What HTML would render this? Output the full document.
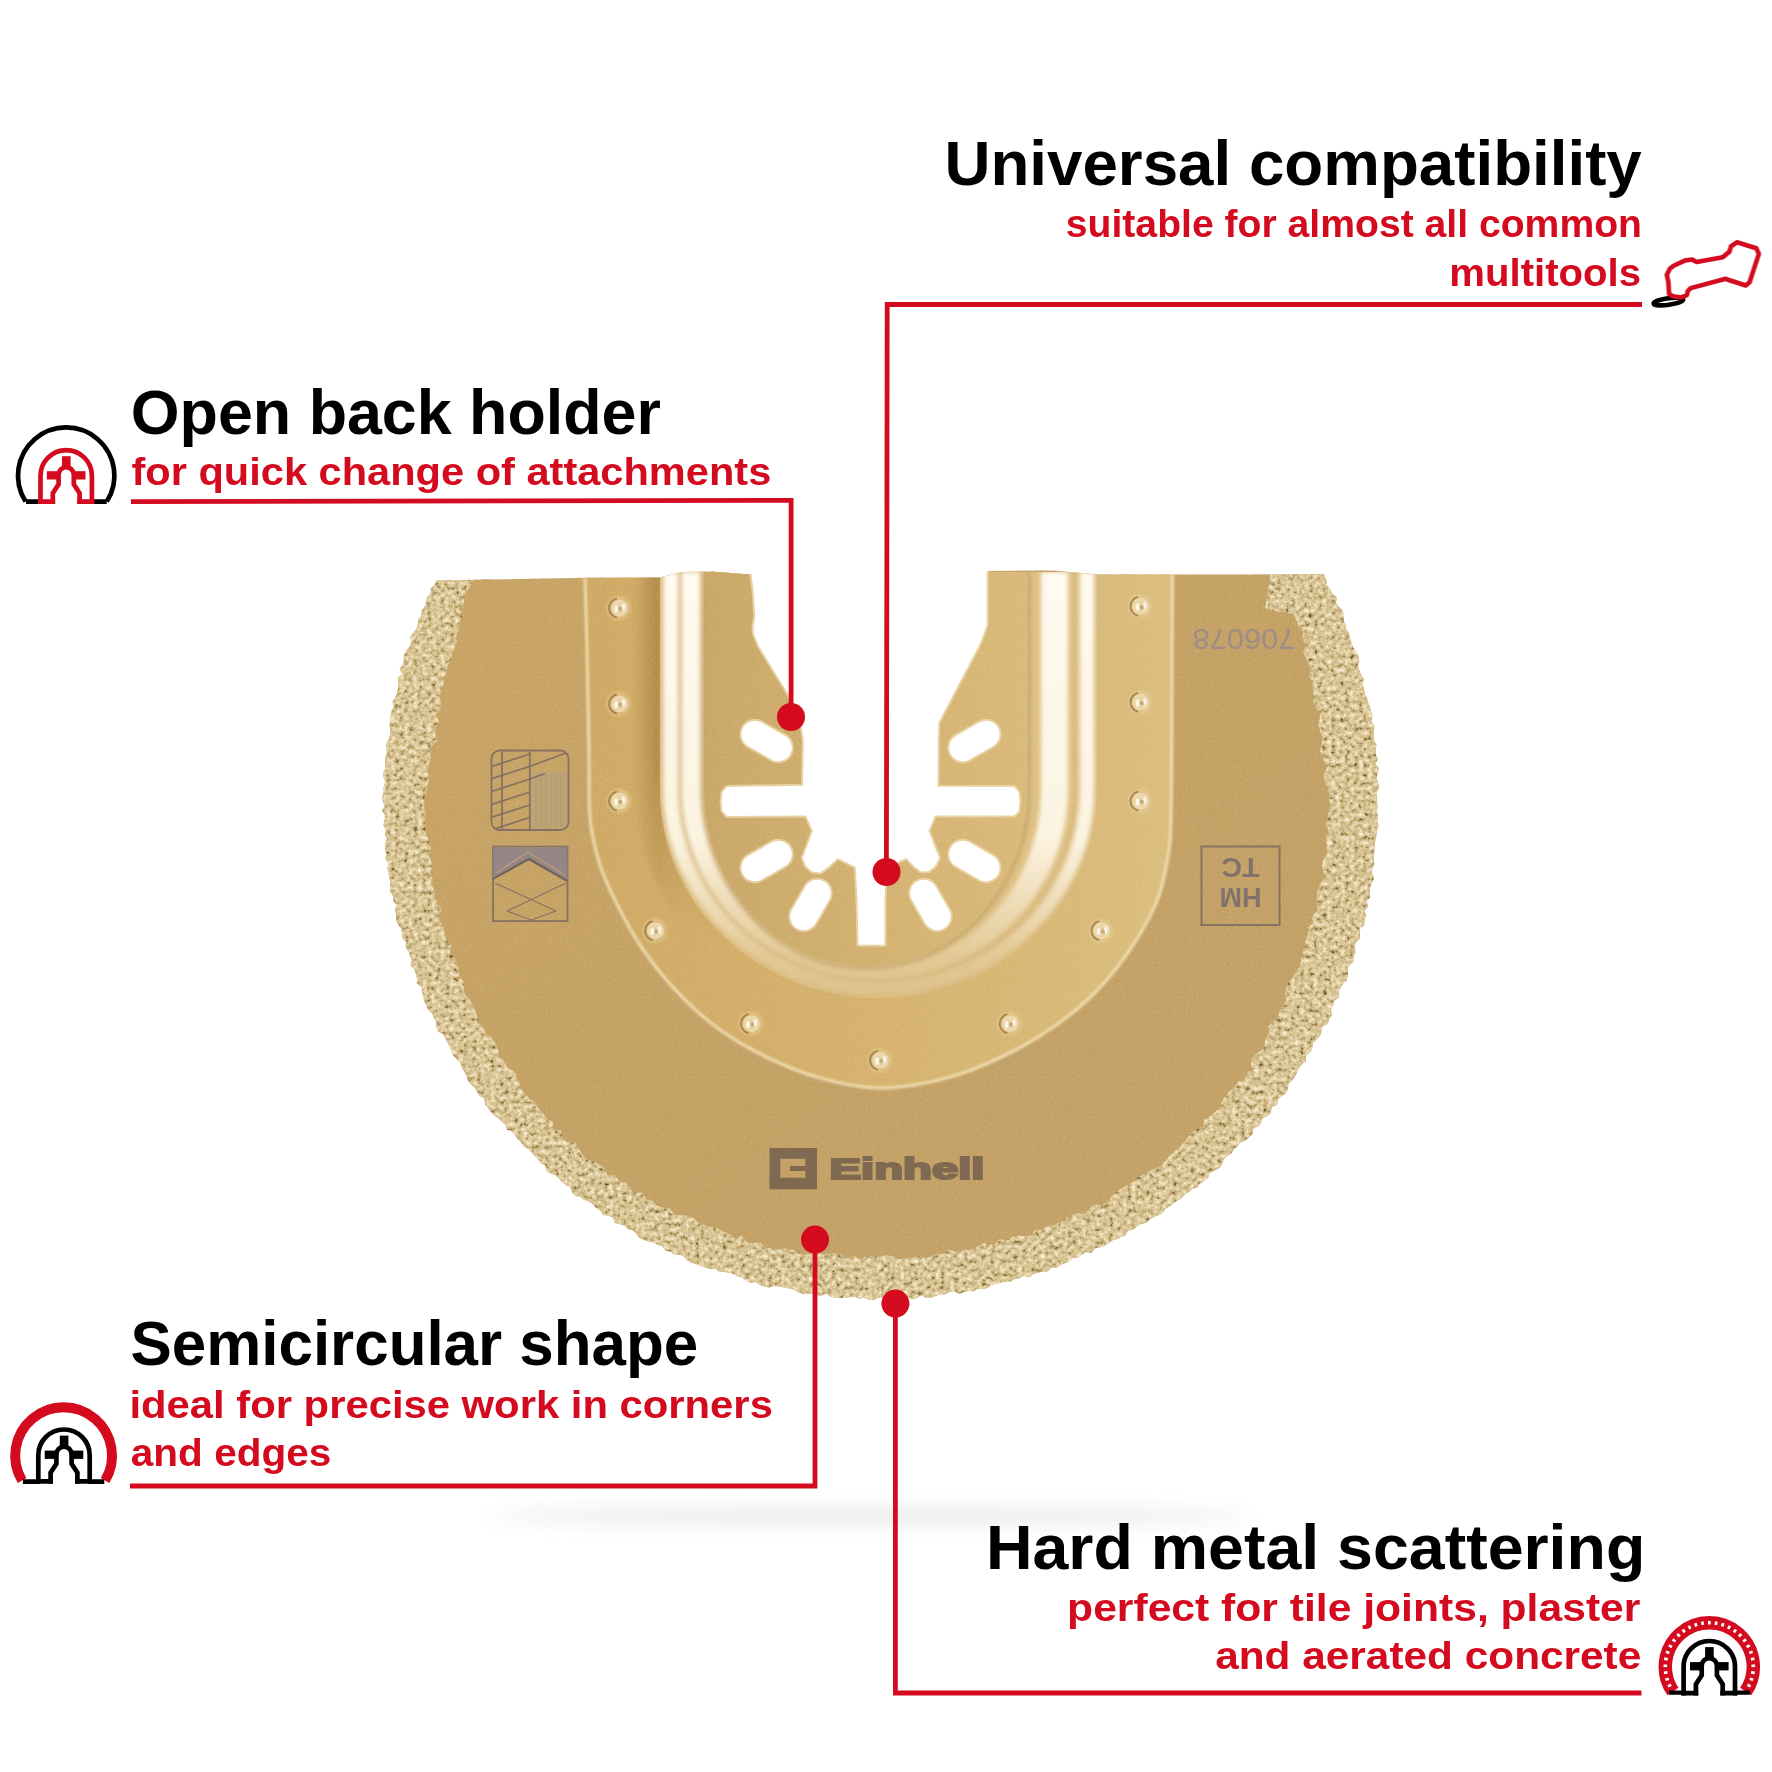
<!DOCTYPE html>
<html><head><meta charset="utf-8">
<style>
html,body{margin:0;padding:0;background:#fff;}
body{width:1772px;height:1772px;overflow:hidden;position:relative;}
svg{position:absolute;left:0;top:0;}
.h{font-family:"Liberation Sans",sans-serif;font-weight:bold;font-size:63px;fill:#000;}
.s{font-family:"Liberation Sans",sans-serif;font-weight:bold;font-size:39px;fill:#d40a1e;}
</style></head>
<body>
<svg width="1772" height="1772" viewBox="0 0 1772 1772">
<rect width="1772" height="1772" fill="#fff"/>
<!-- BLADE -->

<defs>
  <clipPath id="bladeClip"><path d="M436.1,580.4 434.6,585.0 430.7,588.5 430.8,593.8 427.2,597.3 425.9,602.0 425.1,606.8 421.6,610.5 421.5,615.6 418.3,619.5 417.9,624.5 416.2,628.9 413.3,632.9 410.2,636.9 411.3,642.3 409.4,646.7 406.4,650.7 403.8,654.9 403.8,659.9 403.2,664.7 399.6,668.7 402.0,674.3 397.7,678.1 398.7,683.3 398.2,688.0 397.2,692.7 395.4,697.2 392.5,701.4 394.0,706.6 391.6,711.0 390.5,715.7 390.8,720.5 389.3,725.2 390.5,730.2 389.9,734.9 388.7,739.5 386.2,744.0 386.7,748.9 386.7,753.7 385.2,758.3 385.3,763.1 385.6,767.9 383.3,772.6 383.5,777.4 385.1,782.2 383.6,786.9 383.7,791.7 382.2,796.5 382.8,801.3 384.6,806.0 381.9,810.8 385.4,815.5 384.4,820.3 383.3,825.2 385.9,829.8 384.9,834.7 387.0,839.3 384.9,844.2 385.0,849.0 386.2,853.7 385.5,858.6 388.3,863.1 387.4,868.0 388.5,872.7 389.3,877.4 390.5,882.0 389.8,887.0 390.2,891.8 393.0,896.1 393.2,901.0 396.5,905.1 395.0,910.3 396.3,915.0 396.1,919.9 397.9,924.4 401.2,928.5 402.1,933.2 402.3,938.1 406.1,942.0 405.8,947.0 408.3,951.2 410.0,955.7 411.7,960.1 410.6,965.6 414.6,969.2 415.8,973.8 416.9,978.5 416.9,983.6 421.6,986.9 422.0,991.9 423.5,996.4 424.2,1001.3 426.3,1005.6 428.2,1010.0 432.3,1013.4 433.9,1017.9 436.2,1022.1 436.5,1027.3 438.4,1031.7 443.5,1034.4 445.6,1038.7 447.7,1042.9 450.1,1047.1 451.6,1051.7 453.7,1056.0 457.3,1059.5 460.6,1063.0 461.8,1067.9 464.5,1071.8 466.5,1076.2 467.9,1081.0 471.4,1084.4 474.7,1087.9 477.2,1092.0 479.8,1096.0 484.6,1098.4 484.8,1104.2 488.1,1107.7 490.8,1111.7 494.0,1115.3 498.3,1117.9 501.4,1121.6 505.4,1124.5 506.9,1129.4 511.8,1131.5 514.9,1135.0 517.7,1138.9 521.1,1142.3 523.9,1146.2 528.1,1148.8 531.6,1152.0 534.5,1155.8 538.1,1159.0 540.8,1163.0 545.2,1165.3 546.5,1171.0 550.7,1173.4 555.5,1175.1 558.9,1178.6 562.3,1181.9 565.9,1185.0 570.2,1187.3 572.1,1192.5 575.5,1195.9 580.6,1197.2 584.4,1200.1 589.2,1201.6 593.0,1204.5 596.3,1208.0 600.4,1210.5 603.1,1215.0 608.6,1215.4 612.9,1217.6 614.9,1223.2 619.8,1224.3 624.7,1225.5 628.0,1229.3 633.1,1230.0 636.3,1234.1 639.6,1238.0 644.0,1239.9 648.5,1241.5 653.6,1242.2 657.6,1244.7 662.3,1246.1 665.5,1250.4 670.2,1251.6 674.2,1254.5 679.2,1254.8 683.8,1256.3 687.2,1260.4 691.4,1262.8 696.0,1264.1 700.6,1265.7 705.0,1267.5 709.6,1268.9 714.8,1268.5 718.9,1271.2 723.6,1272.1 728.6,1272.4 733.1,1273.8 737.4,1276.2 741.9,1277.5 746.1,1280.4 750.4,1282.7 755.5,1282.0 759.7,1285.1 764.3,1286.4 769.0,1287.4 774.2,1286.1 778.9,1286.6 783.6,1287.6 788.3,1288.3 793.0,1289.2 797.4,1291.7 801.9,1293.6 806.7,1294.1 811.6,1293.4 816.3,1294.7 820.9,1295.9 826.0,1293.6 830.5,1296.4 835.2,1297.8 840.0,1297.7 844.8,1298.0 849.6,1297.2 854.4,1296.3 859.1,1299.0 863.9,1297.3 868.6,1299.4 873.4,1300.1 878.2,1297.9 883.0,1297.9 887.8,1300.0 892.6,1299.1 897.3,1296.7 902.0,1296.4 906.8,1296.2 911.7,1299.0 916.5,1298.3 921.0,1295.3 926.0,1297.6 930.8,1297.7 935.5,1295.9 940.1,1294.2 944.9,1294.4 949.4,1292.1 954.1,1290.9 959.4,1294.0 963.9,1292.0 968.5,1290.7 973.5,1291.4 977.8,1288.5 982.8,1289.3 987.5,1288.1 991.6,1284.7 996.3,1283.7 1000.9,1282.8 1005.5,1281.4 1010.5,1281.5 1014.7,1279.0 1019.5,1278.3 1023.7,1275.8 1029.2,1277.4 1033.1,1273.9 1037.8,1272.8 1042.4,1271.7 1047.4,1271.4 1051.2,1267.9 1056.4,1268.1 1060.3,1264.9 1064.8,1263.2 1069.2,1261.4 1072.8,1257.7 1077.9,1257.4 1081.8,1254.6 1085.9,1252.0 1091.5,1252.9 1094.8,1248.6 1099.6,1247.6 1104.3,1246.3 1108.3,1243.6 1112.1,1240.6 1116.6,1239.0 1120.9,1236.9 1125.5,1235.3 1128.3,1230.6 1133.4,1229.8 1136.8,1226.3 1141.0,1223.9 1146.1,1223.1 1149.5,1219.6 1153.7,1217.2 1158.1,1215.2 1162.4,1213.0 1165.3,1208.8 1169.6,1206.6 1173.2,1203.4 1177.0,1200.6 1181.3,1198.4 1184.5,1194.7 1188.5,1192.0 1192.1,1188.9 1197.0,1187.3 1200.0,1183.5 1204.2,1181.0 1208.0,1178.0 1209.8,1172.8 1214.1,1170.6 1218.7,1168.5 1221.9,1164.9 1223.5,1159.6 1226.8,1156.3 1231.1,1153.8 1233.5,1149.4 1237.3,1146.5 1240.1,1142.6 1245.1,1140.7 1248.7,1137.5 1252.2,1134.3 1253.2,1128.8 1258.0,1126.6 1260.9,1122.9 1262.4,1117.9 1267.7,1116.1 1271.0,1112.6 1271.6,1107.0 1276.9,1105.0 1278.0,1099.8 1281.1,1096.2 1285.6,1093.5 1287.9,1089.3 1288.4,1083.8 1292.0,1080.5 1294.9,1076.7 1297.0,1072.4 1299.1,1068.1 1302.0,1064.3 1305.9,1061.1 1306.0,1055.5 1310.2,1052.5 1312.2,1048.2 1313.1,1043.2 1316.5,1039.6 1319.8,1036.0 1321.7,1031.6 1322.3,1026.5 1327.7,1023.9 1329.1,1019.3 1331.9,1015.3 1330.7,1009.5 1333.3,1005.4 1334.4,1000.7 1339.0,997.5 1339.0,992.3 1340.3,987.7 1343.2,983.7 1346.7,980.0 1348.1,975.4 1347.6,970.1 1348.8,965.5 1353.3,962.0 1353.5,957.0 1355.5,952.6 1354.6,947.3 1355.8,942.7 1359.6,938.9 1359.9,934.0 1359.8,929.0 1364.3,925.3 1364.3,920.3 1366.1,915.8 1364.4,910.6 1368.4,906.6 1366.3,901.2 1370.4,897.2 1369.7,892.2 1370.1,887.4 1371.7,882.9 1374.0,878.4 1372.1,873.3 1372.2,868.5 1374.4,863.9 1373.8,859.1 1373.9,854.3 1374.6,849.6 1374.6,844.8 1375.6,840.1 1376.4,835.4 1376.6,830.6 1378.7,825.9 1377.1,821.1 1378.1,816.4 1376.9,811.6 1377.7,806.8 1376.4,802.0 1377.3,797.3 1376.3,792.5 1379.1,787.7 1378.2,782.9 1376.5,778.2 1377.4,773.4 1379.0,768.5 1375.3,764.0 1377.8,759.0 1375.8,754.4 1375.6,749.6 1376.5,744.7 1374.1,740.2 1374.0,735.4 1374.0,730.6 1374.5,725.7 1371.2,721.3 1372.4,716.3 1371.1,711.7 1369.9,707.0 1368.1,702.5 1366.9,697.9 1364.7,693.5 1364.0,688.8 1362.6,684.2 1364.1,678.9 1361.0,674.8 1359.4,670.3 1357.8,665.8 1359.4,660.4 1358.2,655.7 1356.0,651.4 1353.0,647.3 1351.4,642.9 1350.1,638.3 1349.1,633.6 1346.3,629.5 1345.7,624.6 1343.4,620.5 1344.2,615.0 1342.4,610.5 1339.0,606.8 1336.0,602.9 1336.7,597.3 1332.4,594.1 1330.5,589.7 1327.2,586.0 1326.5,581.0 1324.7,576.6 1323.9,574.3 1172.0,574.6 1097.0,574.4 1053.0,570.5 987.0,571.0 870.0,572.0 750.0,574.5 712.0,571.5 682.0,572.0 660.0,577.6 585.0,577.8Z"/></clipPath>
  <filter id="grain" x="0" y="0" width="100%" height="100%" color-interpolation-filters="sRGB">
    <feTurbulence type="fractalNoise" baseFrequency="0.8" numOctaves="2" seed="3" result="n"/>
    <feColorMatrix in="n" type="matrix" values="0 0 0 0 1  0 0 0 0 0.93  0 0 0 0 0.78  2.2 0 0 0 -1.2" result="a"/>
    <feComposite in="a" in2="SourceGraphic" operator="in"/>
  </filter>
  <filter id="grit" x="0" y="0" width="100%" height="100%" color-interpolation-filters="sRGB">
    <feTurbulence type="fractalNoise" baseFrequency="0.22" numOctaves="3" seed="11" result="n"/>
    <feColorMatrix in="n" type="matrix" values="1 0 0 0 0  1 0 0 0 0  1 0 0 0 0  0 0 0 0 1" result="g"/>
    <feComponentTransfer in="g" result="c">
      <feFuncR type="table" tableValues="0.30 0.34 0.52 0.73 0.80 0.85 0.89 0.93 0.97 1 1"/>
      <feFuncG type="table" tableValues="0.23 0.27 0.43 0.64 0.72 0.77 0.82 0.87 0.92 0.96 0.96"/>
      <feFuncB type="table" tableValues="0.10 0.12 0.25 0.43 0.52 0.58 0.65 0.72 0.81 0.88 0.88"/>
    </feComponentTransfer>
    <feComposite in="c" in2="SourceGraphic" operator="in"/>
  </filter>
  <filter id="hlblur1" x="-5%" y="-5%" width="110%" height="110%"><feGaussianBlur stdDeviation="0.9"/></filter>
  <filter id="hlblur" x="-5%" y="-5%" width="110%" height="110%"><feGaussianBlur stdDeviation="2.2"/></filter>
  <filter id="soft" x="-20%" y="-20%" width="140%" height="140%"><feGaussianBlur stdDeviation="1.2"/></filter>
  <filter id="shadowBlur" x="-30%" y="-300%" width="160%" height="700%"><feGaussianBlur stdDeviation="9"/></filter>
  <linearGradient id="bodyG" x1="0" y1="0" x2="1" y2="1">
    <stop offset="0" stop-color="#c8a465"/>
    <stop offset="0.55" stop-color="#c3a064"/>
    <stop offset="1" stop-color="#c3a26a"/>
  </linearGradient>
  <linearGradient id="plateG" x1="0" y1="0" x2="1" y2="0">
    <stop offset="0" stop-color="#cfa964"/>
    <stop offset="0.5" stop-color="#d5b26e"/>
    <stop offset="1" stop-color="#dbbd7e"/>
  </linearGradient>
  <linearGradient id="innerG" x1="0" y1="0" x2="1" y2="0">
    <stop offset="0" stop-color="#c9a769"/>
    <stop offset="0.5" stop-color="#d2b070"/>
    <stop offset="1" stop-color="#dab97a"/>
  </linearGradient>
  <linearGradient id="hlG" gradientUnits="userSpaceOnUse" x1="0" y1="572" x2="0" y2="1000">
    <stop offset="0" stop-color="#fffbf2"/><stop offset="0.62" stop-color="#fcf4e2"/><stop offset="0.9" stop-color="#e2c894"/><stop offset="1" stop-color="#dcc08a"/>
  </linearGradient>
  <linearGradient id="shL" gradientUnits="userSpaceOnUse" x1="636" y1="0" x2="1000" y2="0">
    <stop offset="0" stop-color="#8a6428" stop-opacity="0.05"/><stop offset="0.06" stop-color="#8a6428" stop-opacity="0.45"/><stop offset="0.15" stop-color="#8a6428" stop-opacity="0.3"/><stop offset="0.3" stop-color="#8a6428" stop-opacity="0"/>
  </linearGradient>
  <linearGradient id="shFade" gradientUnits="userSpaceOnUse" x1="0" y1="760" x2="0" y2="930"><stop offset="0" stop-color="#fff"/><stop offset="1" stop-color="#000"/></linearGradient>
  <radialGradient id="rivG" cx="0.5" cy="0.5" r="0.6"><stop offset="0" stop-color="#e4d0a0"/><stop offset="1" stop-color="#efdcb2"/></radialGradient>
</defs>
<ellipse cx="870" cy="1516" rx="380" ry="9" fill="#e6e6e8" filter="url(#shadowBlur)" opacity="0.8"/>
<g id="bladeGroup">
  <path d="M436.1,580.4 434.6,585.0 430.7,588.5 430.8,593.8 427.2,597.3 425.9,602.0 425.1,606.8 421.6,610.5 421.5,615.6 418.3,619.5 417.9,624.5 416.2,628.9 413.3,632.9 410.2,636.9 411.3,642.3 409.4,646.7 406.4,650.7 403.8,654.9 403.8,659.9 403.2,664.7 399.6,668.7 402.0,674.3 397.7,678.1 398.7,683.3 398.2,688.0 397.2,692.7 395.4,697.2 392.5,701.4 394.0,706.6 391.6,711.0 390.5,715.7 390.8,720.5 389.3,725.2 390.5,730.2 389.9,734.9 388.7,739.5 386.2,744.0 386.7,748.9 386.7,753.7 385.2,758.3 385.3,763.1 385.6,767.9 383.3,772.6 383.5,777.4 385.1,782.2 383.6,786.9 383.7,791.7 382.2,796.5 382.8,801.3 384.6,806.0 381.9,810.8 385.4,815.5 384.4,820.3 383.3,825.2 385.9,829.8 384.9,834.7 387.0,839.3 384.9,844.2 385.0,849.0 386.2,853.7 385.5,858.6 388.3,863.1 387.4,868.0 388.5,872.7 389.3,877.4 390.5,882.0 389.8,887.0 390.2,891.8 393.0,896.1 393.2,901.0 396.5,905.1 395.0,910.3 396.3,915.0 396.1,919.9 397.9,924.4 401.2,928.5 402.1,933.2 402.3,938.1 406.1,942.0 405.8,947.0 408.3,951.2 410.0,955.7 411.7,960.1 410.6,965.6 414.6,969.2 415.8,973.8 416.9,978.5 416.9,983.6 421.6,986.9 422.0,991.9 423.5,996.4 424.2,1001.3 426.3,1005.6 428.2,1010.0 432.3,1013.4 433.9,1017.9 436.2,1022.1 436.5,1027.3 438.4,1031.7 443.5,1034.4 445.6,1038.7 447.7,1042.9 450.1,1047.1 451.6,1051.7 453.7,1056.0 457.3,1059.5 460.6,1063.0 461.8,1067.9 464.5,1071.8 466.5,1076.2 467.9,1081.0 471.4,1084.4 474.7,1087.9 477.2,1092.0 479.8,1096.0 484.6,1098.4 484.8,1104.2 488.1,1107.7 490.8,1111.7 494.0,1115.3 498.3,1117.9 501.4,1121.6 505.4,1124.5 506.9,1129.4 511.8,1131.5 514.9,1135.0 517.7,1138.9 521.1,1142.3 523.9,1146.2 528.1,1148.8 531.6,1152.0 534.5,1155.8 538.1,1159.0 540.8,1163.0 545.2,1165.3 546.5,1171.0 550.7,1173.4 555.5,1175.1 558.9,1178.6 562.3,1181.9 565.9,1185.0 570.2,1187.3 572.1,1192.5 575.5,1195.9 580.6,1197.2 584.4,1200.1 589.2,1201.6 593.0,1204.5 596.3,1208.0 600.4,1210.5 603.1,1215.0 608.6,1215.4 612.9,1217.6 614.9,1223.2 619.8,1224.3 624.7,1225.5 628.0,1229.3 633.1,1230.0 636.3,1234.1 639.6,1238.0 644.0,1239.9 648.5,1241.5 653.6,1242.2 657.6,1244.7 662.3,1246.1 665.5,1250.4 670.2,1251.6 674.2,1254.5 679.2,1254.8 683.8,1256.3 687.2,1260.4 691.4,1262.8 696.0,1264.1 700.6,1265.7 705.0,1267.5 709.6,1268.9 714.8,1268.5 718.9,1271.2 723.6,1272.1 728.6,1272.4 733.1,1273.8 737.4,1276.2 741.9,1277.5 746.1,1280.4 750.4,1282.7 755.5,1282.0 759.7,1285.1 764.3,1286.4 769.0,1287.4 774.2,1286.1 778.9,1286.6 783.6,1287.6 788.3,1288.3 793.0,1289.2 797.4,1291.7 801.9,1293.6 806.7,1294.1 811.6,1293.4 816.3,1294.7 820.9,1295.9 826.0,1293.6 830.5,1296.4 835.2,1297.8 840.0,1297.7 844.8,1298.0 849.6,1297.2 854.4,1296.3 859.1,1299.0 863.9,1297.3 868.6,1299.4 873.4,1300.1 878.2,1297.9 883.0,1297.9 887.8,1300.0 892.6,1299.1 897.3,1296.7 902.0,1296.4 906.8,1296.2 911.7,1299.0 916.5,1298.3 921.0,1295.3 926.0,1297.6 930.8,1297.7 935.5,1295.9 940.1,1294.2 944.9,1294.4 949.4,1292.1 954.1,1290.9 959.4,1294.0 963.9,1292.0 968.5,1290.7 973.5,1291.4 977.8,1288.5 982.8,1289.3 987.5,1288.1 991.6,1284.7 996.3,1283.7 1000.9,1282.8 1005.5,1281.4 1010.5,1281.5 1014.7,1279.0 1019.5,1278.3 1023.7,1275.8 1029.2,1277.4 1033.1,1273.9 1037.8,1272.8 1042.4,1271.7 1047.4,1271.4 1051.2,1267.9 1056.4,1268.1 1060.3,1264.9 1064.8,1263.2 1069.2,1261.4 1072.8,1257.7 1077.9,1257.4 1081.8,1254.6 1085.9,1252.0 1091.5,1252.9 1094.8,1248.6 1099.6,1247.6 1104.3,1246.3 1108.3,1243.6 1112.1,1240.6 1116.6,1239.0 1120.9,1236.9 1125.5,1235.3 1128.3,1230.6 1133.4,1229.8 1136.8,1226.3 1141.0,1223.9 1146.1,1223.1 1149.5,1219.6 1153.7,1217.2 1158.1,1215.2 1162.4,1213.0 1165.3,1208.8 1169.6,1206.6 1173.2,1203.4 1177.0,1200.6 1181.3,1198.4 1184.5,1194.7 1188.5,1192.0 1192.1,1188.9 1197.0,1187.3 1200.0,1183.5 1204.2,1181.0 1208.0,1178.0 1209.8,1172.8 1214.1,1170.6 1218.7,1168.5 1221.9,1164.9 1223.5,1159.6 1226.8,1156.3 1231.1,1153.8 1233.5,1149.4 1237.3,1146.5 1240.1,1142.6 1245.1,1140.7 1248.7,1137.5 1252.2,1134.3 1253.2,1128.8 1258.0,1126.6 1260.9,1122.9 1262.4,1117.9 1267.7,1116.1 1271.0,1112.6 1271.6,1107.0 1276.9,1105.0 1278.0,1099.8 1281.1,1096.2 1285.6,1093.5 1287.9,1089.3 1288.4,1083.8 1292.0,1080.5 1294.9,1076.7 1297.0,1072.4 1299.1,1068.1 1302.0,1064.3 1305.9,1061.1 1306.0,1055.5 1310.2,1052.5 1312.2,1048.2 1313.1,1043.2 1316.5,1039.6 1319.8,1036.0 1321.7,1031.6 1322.3,1026.5 1327.7,1023.9 1329.1,1019.3 1331.9,1015.3 1330.7,1009.5 1333.3,1005.4 1334.4,1000.7 1339.0,997.5 1339.0,992.3 1340.3,987.7 1343.2,983.7 1346.7,980.0 1348.1,975.4 1347.6,970.1 1348.8,965.5 1353.3,962.0 1353.5,957.0 1355.5,952.6 1354.6,947.3 1355.8,942.7 1359.6,938.9 1359.9,934.0 1359.8,929.0 1364.3,925.3 1364.3,920.3 1366.1,915.8 1364.4,910.6 1368.4,906.6 1366.3,901.2 1370.4,897.2 1369.7,892.2 1370.1,887.4 1371.7,882.9 1374.0,878.4 1372.1,873.3 1372.2,868.5 1374.4,863.9 1373.8,859.1 1373.9,854.3 1374.6,849.6 1374.6,844.8 1375.6,840.1 1376.4,835.4 1376.6,830.6 1378.7,825.9 1377.1,821.1 1378.1,816.4 1376.9,811.6 1377.7,806.8 1376.4,802.0 1377.3,797.3 1376.3,792.5 1379.1,787.7 1378.2,782.9 1376.5,778.2 1377.4,773.4 1379.0,768.5 1375.3,764.0 1377.8,759.0 1375.8,754.4 1375.6,749.6 1376.5,744.7 1374.1,740.2 1374.0,735.4 1374.0,730.6 1374.5,725.7 1371.2,721.3 1372.4,716.3 1371.1,711.7 1369.9,707.0 1368.1,702.5 1366.9,697.9 1364.7,693.5 1364.0,688.8 1362.6,684.2 1364.1,678.9 1361.0,674.8 1359.4,670.3 1357.8,665.8 1359.4,660.4 1358.2,655.7 1356.0,651.4 1353.0,647.3 1351.4,642.9 1350.1,638.3 1349.1,633.6 1346.3,629.5 1345.7,624.6 1343.4,620.5 1344.2,615.0 1342.4,610.5 1339.0,606.8 1336.0,602.9 1336.7,597.3 1332.4,594.1 1330.5,589.7 1327.2,586.0 1326.5,581.0 1324.7,576.6 1323.9,574.3 1172.0,574.6 1097.0,574.4 1053.0,570.5 987.0,571.0 870.0,572.0 750.0,574.5 712.0,571.5 682.0,572.0 660.0,577.6 585.0,577.8Z" fill="url(#bodyG)"/>
  <g clip-path="url(#bladeClip)">
    <path d="M585.0,577.8 C585.3,589.8 586.3,619.6 587.0,650.0 C587.7,680.4 588.5,731.7 589.0,760.0 C589.5,788.3 588.4,802.5 590.2,820.0 C592.0,837.5 595.5,850.9 600.0,865.0 C604.5,879.1 610.2,890.9 617.2,904.7 C624.2,918.5 632.4,933.9 642.0,948.0 C651.6,962.1 662.5,976.1 674.8,989.3 C687.1,1002.5 700.8,1015.7 716.0,1027.0 C731.2,1038.3 748.9,1048.5 766.2,1057.0 C783.5,1065.5 801.4,1072.8 820.0,1078.0 C838.6,1083.2 858.8,1087.5 878.0,1088.0 C897.2,1088.5 917.0,1085.0 935.0,1081.0 C953.0,1077.0 968.8,1071.5 986.3,1064.0 C1003.8,1056.5 1023.0,1046.8 1040.0,1036.0 C1057.0,1025.2 1073.8,1012.7 1088.0,999.5 C1102.2,986.3 1113.7,972.8 1125.0,957.0 C1136.3,941.2 1148.6,920.5 1155.6,904.7 C1162.6,888.9 1164.4,876.1 1167.0,862.0 C1169.6,847.9 1170.2,847.0 1171.0,820.0 C1171.8,793.0 1171.8,740.9 1172.0,700.0 C1172.2,659.1 1172.4,595.5 1172.5,574.6 Z" fill="url(#plateG)"/>
    <path d="M585.0,577.8 C585.3,589.8 586.3,619.6 587.0,650.0 C587.7,680.4 588.5,731.7 589.0,760.0 C589.5,788.3 588.4,802.5 590.2,820.0 C592.0,837.5 595.5,850.9 600.0,865.0 C604.5,879.1 610.2,890.9 617.2,904.7 C624.2,918.5 632.4,933.9 642.0,948.0 C651.6,962.1 662.5,976.1 674.8,989.3 C687.1,1002.5 700.8,1015.7 716.0,1027.0 C731.2,1038.3 748.9,1048.5 766.2,1057.0 C783.5,1065.5 801.4,1072.8 820.0,1078.0 C838.6,1083.2 858.8,1087.5 878.0,1088.0 C897.2,1088.5 917.0,1085.0 935.0,1081.0 C953.0,1077.0 968.8,1071.5 986.3,1064.0 C1003.8,1056.5 1023.0,1046.8 1040.0,1036.0 C1057.0,1025.2 1073.8,1012.7 1088.0,999.5 C1102.2,986.3 1113.7,972.8 1125.0,957.0 C1136.3,941.2 1148.6,920.5 1155.6,904.7 C1162.6,888.9 1164.4,876.1 1167.0,862.0 C1169.6,847.9 1170.2,847.0 1171.0,820.0 C1171.8,793.0 1171.8,740.9 1172.0,700.0 C1172.2,659.1 1172.4,595.5 1172.5,574.6" fill="none" stroke="#f3e2b8" stroke-width="3.2" opacity="0.85" filter="url(#hlblur1)"/>
    <path d="M704.0,572.0 V790.0 A161.5 176.0 0 0 0 1027.0,790.0 V572.0 Z" fill="url(#innerG)"/>
    <mask id="shMask" maskUnits="userSpaceOnUse" x="560" y="560" width="300" height="500"><rect x="560" y="560" width="300" height="500" fill="url(#shFade)"/></mask>
    <g mask="url(#shMask)"><path d="M636.0,572.0 V790.0 A242.5 230.0 0 0 0 1121.0,790.0 V572.0 L1096.0,572.0 V790.0 A217.5 207.0 0 0 1 661.0,790.0 V572.0 Z" fill="url(#shL)" filter="url(#hlblur)"/></g>
    <path d="M660.0,572.0 V790.0 A218.5 208.0 0 0 0 1097.0,790.0 V572.0 L1027.0,572.0 V790.0 A161.5 176.0 0 0 1 704.0,790.0 V572.0 Z" fill="#dec083"/>
    <clipPath id="ridgeClip"><path d="M660.0,572.0 V790.0 A218.5 208.0 0 0 0 1097.0,790.0 V572.0 L1027.0,572.0 V790.0 A161.5 176.0 0 0 1 704.0,790.0 V572.0 Z"/></clipPath>
    <g clip-path="url(#ridgeClip)"><g filter="url(#hlblur)"><path d="M663.5,572.0 V790.0 A215.2 204.0 0 0 0 1094.0,790.0 V572.0 L1080.0,572.0 V790.0 A201.0 193.0 0 0 1 678.0,790.0 V572.0 Z" fill="url(#hlG)"/><path d="M682.0,572.0 V790.0 A193.0 189.0 0 0 0 1068.0,790.0 V572.0 L1041.0,572.0 V790.0 A170.5 179.0 0 0 1 700.0,790.0 V572.0 Z" fill="url(#hlG)"/><path d="M680.0,572.0 V790.0 A197.5 191.0 0 0 0 1075.0,790.0 V572.0" fill="none" stroke="#d4b27a" stroke-width="2.6" opacity="0.8"/><path d="M703.0,572.0 V790.0 A163.0 178.0 0 0 0 1029.0,790.0 V572.0" fill="none" stroke="#a88550" stroke-width="3" opacity="0.6"/><path d="M661.0,572.0 V790.0 A217.5 207.0 0 0 0 1096.0,790.0 V572.0" fill="none" stroke="#c9a467" stroke-width="1.6" opacity="0.6"/></g></g>
    <rect x="380" y="560" width="1010" height="750" fill="#fff" filter="url(#grain)" opacity="0.35"/>
    <path d="M436.1,580.4 434.6,585.0 430.7,588.5 430.8,593.8 427.2,597.3 425.9,602.0 425.1,606.8 421.6,610.5 421.5,615.6 418.3,619.5 417.9,624.5 416.2,628.9 413.3,632.9 410.2,636.9 411.3,642.3 409.4,646.7 406.4,650.7 403.8,654.9 403.8,659.9 403.2,664.7 399.6,668.7 402.0,674.3 397.7,678.1 398.7,683.3 398.2,688.0 397.2,692.7 395.4,697.2 392.5,701.4 394.0,706.6 391.6,711.0 390.5,715.7 390.8,720.5 389.3,725.2 390.5,730.2 389.9,734.9 388.7,739.5 386.2,744.0 386.7,748.9 386.7,753.7 385.2,758.3 385.3,763.1 385.6,767.9 383.3,772.6 383.5,777.4 385.1,782.2 383.6,786.9 383.7,791.7 382.2,796.5 382.8,801.3 384.6,806.0 381.9,810.8 385.4,815.5 384.4,820.3 383.3,825.2 385.9,829.8 384.9,834.7 387.0,839.3 384.9,844.2 385.0,849.0 386.2,853.7 385.5,858.6 388.3,863.1 387.4,868.0 388.5,872.7 389.3,877.4 390.5,882.0 389.8,887.0 390.2,891.8 393.0,896.1 393.2,901.0 396.5,905.1 395.0,910.3 396.3,915.0 396.1,919.9 397.9,924.4 401.2,928.5 402.1,933.2 402.3,938.1 406.1,942.0 405.8,947.0 408.3,951.2 410.0,955.7 411.7,960.1 410.6,965.6 414.6,969.2 415.8,973.8 416.9,978.5 416.9,983.6 421.6,986.9 422.0,991.9 423.5,996.4 424.2,1001.3 426.3,1005.6 428.2,1010.0 432.3,1013.4 433.9,1017.9 436.2,1022.1 436.5,1027.3 438.4,1031.7 443.5,1034.4 445.6,1038.7 447.7,1042.9 450.1,1047.1 451.6,1051.7 453.7,1056.0 457.3,1059.5 460.6,1063.0 461.8,1067.9 464.5,1071.8 466.5,1076.2 467.9,1081.0 471.4,1084.4 474.7,1087.9 477.2,1092.0 479.8,1096.0 484.6,1098.4 484.8,1104.2 488.1,1107.7 490.8,1111.7 494.0,1115.3 498.3,1117.9 501.4,1121.6 505.4,1124.5 506.9,1129.4 511.8,1131.5 514.9,1135.0 517.7,1138.9 521.1,1142.3 523.9,1146.2 528.1,1148.8 531.6,1152.0 534.5,1155.8 538.1,1159.0 540.8,1163.0 545.2,1165.3 546.5,1171.0 550.7,1173.4 555.5,1175.1 558.9,1178.6 562.3,1181.9 565.9,1185.0 570.2,1187.3 572.1,1192.5 575.5,1195.9 580.6,1197.2 584.4,1200.1 589.2,1201.6 593.0,1204.5 596.3,1208.0 600.4,1210.5 603.1,1215.0 608.6,1215.4 612.9,1217.6 614.9,1223.2 619.8,1224.3 624.7,1225.5 628.0,1229.3 633.1,1230.0 636.3,1234.1 639.6,1238.0 644.0,1239.9 648.5,1241.5 653.6,1242.2 657.6,1244.7 662.3,1246.1 665.5,1250.4 670.2,1251.6 674.2,1254.5 679.2,1254.8 683.8,1256.3 687.2,1260.4 691.4,1262.8 696.0,1264.1 700.6,1265.7 705.0,1267.5 709.6,1268.9 714.8,1268.5 718.9,1271.2 723.6,1272.1 728.6,1272.4 733.1,1273.8 737.4,1276.2 741.9,1277.5 746.1,1280.4 750.4,1282.7 755.5,1282.0 759.7,1285.1 764.3,1286.4 769.0,1287.4 774.2,1286.1 778.9,1286.6 783.6,1287.6 788.3,1288.3 793.0,1289.2 797.4,1291.7 801.9,1293.6 806.7,1294.1 811.6,1293.4 816.3,1294.7 820.9,1295.9 826.0,1293.6 830.5,1296.4 835.2,1297.8 840.0,1297.7 844.8,1298.0 849.6,1297.2 854.4,1296.3 859.1,1299.0 863.9,1297.3 868.6,1299.4 873.4,1300.1 878.2,1297.9 883.0,1297.9 887.8,1300.0 892.6,1299.1 897.3,1296.7 902.0,1296.4 906.8,1296.2 911.7,1299.0 916.5,1298.3 921.0,1295.3 926.0,1297.6 930.8,1297.7 935.5,1295.9 940.1,1294.2 944.9,1294.4 949.4,1292.1 954.1,1290.9 959.4,1294.0 963.9,1292.0 968.5,1290.7 973.5,1291.4 977.8,1288.5 982.8,1289.3 987.5,1288.1 991.6,1284.7 996.3,1283.7 1000.9,1282.8 1005.5,1281.4 1010.5,1281.5 1014.7,1279.0 1019.5,1278.3 1023.7,1275.8 1029.2,1277.4 1033.1,1273.9 1037.8,1272.8 1042.4,1271.7 1047.4,1271.4 1051.2,1267.9 1056.4,1268.1 1060.3,1264.9 1064.8,1263.2 1069.2,1261.4 1072.8,1257.7 1077.9,1257.4 1081.8,1254.6 1085.9,1252.0 1091.5,1252.9 1094.8,1248.6 1099.6,1247.6 1104.3,1246.3 1108.3,1243.6 1112.1,1240.6 1116.6,1239.0 1120.9,1236.9 1125.5,1235.3 1128.3,1230.6 1133.4,1229.8 1136.8,1226.3 1141.0,1223.9 1146.1,1223.1 1149.5,1219.6 1153.7,1217.2 1158.1,1215.2 1162.4,1213.0 1165.3,1208.8 1169.6,1206.6 1173.2,1203.4 1177.0,1200.6 1181.3,1198.4 1184.5,1194.7 1188.5,1192.0 1192.1,1188.9 1197.0,1187.3 1200.0,1183.5 1204.2,1181.0 1208.0,1178.0 1209.8,1172.8 1214.1,1170.6 1218.7,1168.5 1221.9,1164.9 1223.5,1159.6 1226.8,1156.3 1231.1,1153.8 1233.5,1149.4 1237.3,1146.5 1240.1,1142.6 1245.1,1140.7 1248.7,1137.5 1252.2,1134.3 1253.2,1128.8 1258.0,1126.6 1260.9,1122.9 1262.4,1117.9 1267.7,1116.1 1271.0,1112.6 1271.6,1107.0 1276.9,1105.0 1278.0,1099.8 1281.1,1096.2 1285.6,1093.5 1287.9,1089.3 1288.4,1083.8 1292.0,1080.5 1294.9,1076.7 1297.0,1072.4 1299.1,1068.1 1302.0,1064.3 1305.9,1061.1 1306.0,1055.5 1310.2,1052.5 1312.2,1048.2 1313.1,1043.2 1316.5,1039.6 1319.8,1036.0 1321.7,1031.6 1322.3,1026.5 1327.7,1023.9 1329.1,1019.3 1331.9,1015.3 1330.7,1009.5 1333.3,1005.4 1334.4,1000.7 1339.0,997.5 1339.0,992.3 1340.3,987.7 1343.2,983.7 1346.7,980.0 1348.1,975.4 1347.6,970.1 1348.8,965.5 1353.3,962.0 1353.5,957.0 1355.5,952.6 1354.6,947.3 1355.8,942.7 1359.6,938.9 1359.9,934.0 1359.8,929.0 1364.3,925.3 1364.3,920.3 1366.1,915.8 1364.4,910.6 1368.4,906.6 1366.3,901.2 1370.4,897.2 1369.7,892.2 1370.1,887.4 1371.7,882.9 1374.0,878.4 1372.1,873.3 1372.2,868.5 1374.4,863.9 1373.8,859.1 1373.9,854.3 1374.6,849.6 1374.6,844.8 1375.6,840.1 1376.4,835.4 1376.6,830.6 1378.7,825.9 1377.1,821.1 1378.1,816.4 1376.9,811.6 1377.7,806.8 1376.4,802.0 1377.3,797.3 1376.3,792.5 1379.1,787.7 1378.2,782.9 1376.5,778.2 1377.4,773.4 1379.0,768.5 1375.3,764.0 1377.8,759.0 1375.8,754.4 1375.6,749.6 1376.5,744.7 1374.1,740.2 1374.0,735.4 1374.0,730.6 1374.5,725.7 1371.2,721.3 1372.4,716.3 1371.1,711.7 1369.9,707.0 1368.1,702.5 1366.9,697.9 1364.7,693.5 1364.0,688.8 1362.6,684.2 1364.1,678.9 1361.0,674.8 1359.4,670.3 1357.8,665.8 1359.4,660.4 1358.2,655.7 1356.0,651.4 1353.0,647.3 1351.4,642.9 1350.1,638.3 1349.1,633.6 1346.3,629.5 1345.7,624.6 1343.4,620.5 1344.2,615.0 1342.4,610.5 1339.0,606.8 1336.0,602.9 1336.7,597.3 1332.4,594.1 1330.5,589.7 1327.2,586.0 1326.5,581.0 1324.7,576.6 1323.9,574.3 1172.0,574.6 1097.0,574.4 1053.0,570.5 987.0,571.0 870.0,572.0 750.0,574.5 712.0,571.5 682.0,572.0 660.0,577.6 585.0,577.8Z M464.0,596.1 463.9,603.2 460.9,608.9 462.0,616.5 459.3,622.3 459.0,629.1 456.3,634.8 456.7,641.8 455.2,647.9 452.1,653.6 451.0,659.9 447.6,665.4 446.6,671.8 444.2,677.6 443.5,684.0 441.8,690.1 439.6,696.1 441.1,702.9 440.4,709.2 435.7,714.7 439.4,721.8 435.4,727.5 435.1,733.8 437.5,740.5 431.8,746.1 430.3,752.3 430.6,758.7 429.0,764.9 427.6,771.1 430.5,777.6 427.5,783.8 427.0,790.1 424.5,796.5 424.3,802.8 424.2,809.2 425.8,815.5 424.3,822.0 425.8,828.3 426.2,834.6 429.3,840.8 431.0,847.0 431.1,853.3 430.6,859.7 432.9,865.8 429.8,872.7 432.4,878.7 433.1,885.1 434.2,891.3 435.2,897.6 437.5,903.6 441.6,909.2 438.8,916.4 440.7,922.5 443.7,928.3 445.2,934.5 446.4,940.8 451.5,945.8 450.0,953.0 454.6,958.1 457.7,963.7 459.0,970.0 458.9,976.9 464.0,981.7 463.7,988.8 465.0,995.2 470.1,999.9 473.3,1005.4 475.6,1011.4 477.4,1017.7 479.9,1023.6 483.7,1028.8 486.6,1034.5 492.5,1038.4 495.4,1044.1 498.2,1049.9 499.2,1056.9 504.7,1060.9 507.0,1067.1 513.1,1070.6 516.5,1076.0 519.3,1081.8 521.4,1088.4 525.2,1093.6 529.2,1098.6 534.9,1102.2 538.0,1108.0 542.4,1112.7 546.6,1117.5 552.3,1120.9 553.6,1128.7 561.0,1130.5 562.6,1138.1 567.5,1142.3 575.7,1142.8 578.9,1148.9 582.5,1154.6 586.9,1159.4 593.8,1161.2 599.4,1164.4 604.7,1168.0 607.5,1175.2 615.1,1175.6 619.2,1180.9 625.9,1182.4 630.2,1187.7 634.4,1193.1 642.3,1192.5 645.9,1199.1 652.3,1200.7 657.0,1205.7 663.2,1207.8 670.1,1208.4 674.2,1214.6 681.0,1215.3 687.9,1215.6 693.8,1218.1 698.6,1223.1 704.6,1225.3 710.9,1226.9 717.2,1228.3 722.9,1231.5 729.0,1233.5 734.1,1238.2 741.7,1235.7 746.6,1241.5 752.6,1243.8 759.9,1241.6 765.0,1247.5 771.5,1247.7 777.6,1250.1 784.6,1248.0 790.8,1249.6 797.1,1250.8 802.8,1255.1 809.5,1253.7 816.1,1253.2 822.4,1254.3 828.8,1254.1 835.3,1253.3 841.6,1254.1 847.6,1258.5 854.2,1255.7 860.4,1259.5 867.0,1255.7 873.3,1255.8 879.6,1257.1 886.0,1255.2 892.4,1256.1 898.8,1259.2 905.2,1258.5 911.6,1257.7 917.9,1256.2 924.4,1257.3 930.8,1256.8 936.8,1253.8 943.3,1254.0 949.0,1249.3 955.9,1252.1 961.9,1249.5 968.5,1250.0 974.7,1248.1 980.4,1244.8 986.3,1242.1 993.7,1245.3 998.7,1239.4 1005.4,1239.7 1011.4,1237.4 1017.4,1235.5 1024.3,1236.1 1030.8,1235.4 1035.6,1229.7 1042.4,1229.7 1047.7,1225.8 1054.2,1224.9 1059.9,1221.8 1065.3,1218.2 1071.1,1215.6 1077.0,1213.1 1084.4,1213.9 1089.1,1209.0 1094.1,1204.6 1101.5,1205.0 1107.4,1202.3 1111.5,1196.5 1116.1,1191.7 1121.6,1188.7 1126.7,1184.8 1132.8,1182.5 1137.3,1177.8 1143.1,1174.8 1148.3,1171.2 1154.4,1168.7 1160.5,1166.2 1165.0,1161.5 1168.7,1155.9 1173.5,1151.7 1178.7,1147.9 1182.8,1143.0 1187.3,1138.5 1190.8,1132.9 1196.2,1129.3 1203.3,1127.5 1204.3,1119.5 1210.2,1116.3 1214.9,1112.1 1220.1,1108.1 1221.5,1100.9 1225.7,1096.2 1229.6,1091.1 1234.2,1086.7 1238.2,1081.8 1244.3,1078.4 1247.5,1072.9 1251.3,1067.8 1251.0,1059.8 1254.5,1054.5 1260.7,1051.1 1264.5,1046.0 1265.3,1039.0 1268.5,1033.6 1268.3,1026.2 1272.8,1021.5 1277.8,1017.1 1279.9,1011.0 1282.8,1005.4 1286.0,1000.0 1285.0,992.5 1286.7,986.5 1289.4,980.9 1293.6,975.9 1296.7,970.4 1300.2,965.0 1301.1,958.7 1302.8,952.6 1305.3,946.8 1305.5,940.3 1308.0,934.6 1307.1,927.8 1312.9,923.0 1311.7,916.2 1317.1,911.1 1317.2,904.7 1316.8,898.2 1317.2,891.9 1319.2,885.9 1322.6,880.2 1324.1,874.1 1321.9,867.4 1322.5,861.2 1325.8,855.4 1326.9,849.2 1326.4,842.9 1326.0,836.6 1328.6,830.5 1325.7,824.1 1327.6,817.9 1328.3,811.7 1330.7,805.5 1328.5,799.2 1329.3,792.9 1326.4,786.8 1324.4,780.6 1323.7,774.5 1326.8,768.0 1324.4,762.0 1321.8,756.0 1319.8,750.0 1321.9,743.5 1322.2,737.2 1320.0,731.2 1318.3,725.2 1319.7,718.7 1320.1,712.2 1315.2,706.9 1313.0,701.0 1313.5,694.5 1312.6,688.3 1312.7,681.8 1308.6,676.5 1310.3,669.5 1308.4,663.5 1305.4,657.9 1302.7,652.2 1306.1,644.4 1301.8,639.2 1303.4,631.8 1298.8,626.8 1296.6,620.9 1293.8,615.2 1285.4,612.2 1273.8,610.9 1265.3,608.3 1272.7,560.0 486.8,560.0Z" fill-rule="evenodd" fill="#fff" filter="url(#grit)"/>
  </g>
  <circle cx="618.8" cy="608.1" r="12.5" fill="#e6cc96" opacity="0.5" filter="url(#hlblur1)"/><path d="M616.8,598.6 A9.7 9.7 0 0 0 616.8,617.6" fill="none" stroke="#8e6a32" stroke-width="1.8" opacity="0.7"/><circle cx="619.5999999999999" cy="608.1" r="8.3" fill="url(#rivG)"/><ellipse cx="616.1999999999999" cy="608.9" rx="1.9" ry="3.6" fill="#fffaf0" opacity="0.9"/><ellipse cx="623.4" cy="607.3000000000001" rx="1.7" ry="3.6" fill="#fffaf0" opacity="0.85"/><circle cx="620.4" cy="608.9" r="2.2" fill="#a68a50" opacity="0.5"/><circle cx="618.8" cy="704" r="12.5" fill="#e6cc96" opacity="0.5" filter="url(#hlblur1)"/><path d="M616.8,694.5 A9.7 9.7 0 0 0 616.8,713.5" fill="none" stroke="#8e6a32" stroke-width="1.8" opacity="0.7"/><circle cx="619.5999999999999" cy="704" r="8.3" fill="url(#rivG)"/><ellipse cx="616.1999999999999" cy="704.8" rx="1.9" ry="3.6" fill="#fffaf0" opacity="0.9"/><ellipse cx="623.4" cy="703.2" rx="1.7" ry="3.6" fill="#fffaf0" opacity="0.85"/><circle cx="620.4" cy="704.8" r="2.2" fill="#a68a50" opacity="0.5"/><circle cx="618.8" cy="801.1" r="12.5" fill="#e6cc96" opacity="0.5" filter="url(#hlblur1)"/><path d="M616.8,791.6 A9.7 9.7 0 0 0 616.8,810.6" fill="none" stroke="#8e6a32" stroke-width="1.8" opacity="0.7"/><circle cx="619.5999999999999" cy="801.1" r="8.3" fill="url(#rivG)"/><ellipse cx="616.1999999999999" cy="801.9" rx="1.9" ry="3.6" fill="#fffaf0" opacity="0.9"/><ellipse cx="623.4" cy="800.3000000000001" rx="1.7" ry="3.6" fill="#fffaf0" opacity="0.85"/><circle cx="620.4" cy="801.9" r="2.2" fill="#a68a50" opacity="0.5"/><circle cx="654.8" cy="930.7" r="12.5" fill="#e6cc96" opacity="0.5" filter="url(#hlblur1)"/><path d="M652.8,921.2 A9.7 9.7 0 0 0 652.8,940.2" fill="none" stroke="#8e6a32" stroke-width="1.8" opacity="0.7"/><circle cx="655.5999999999999" cy="930.7" r="8.3" fill="url(#rivG)"/><ellipse cx="652.1999999999999" cy="931.5" rx="1.9" ry="3.6" fill="#fffaf0" opacity="0.9"/><ellipse cx="659.4" cy="929.9000000000001" rx="1.7" ry="3.6" fill="#fffaf0" opacity="0.85"/><circle cx="656.4" cy="931.5" r="2.2" fill="#a68a50" opacity="0.5"/><circle cx="750.7" cy="1023.7" r="12.5" fill="#e6cc96" opacity="0.5" filter="url(#hlblur1)"/><path d="M748.7,1014.2 A9.7 9.7 0 0 0 748.7,1033.2" fill="none" stroke="#8e6a32" stroke-width="1.8" opacity="0.7"/><circle cx="751.5" cy="1023.7" r="8.3" fill="url(#rivG)"/><ellipse cx="748.1" cy="1024.5" rx="1.9" ry="3.6" fill="#fffaf0" opacity="0.9"/><ellipse cx="755.3000000000001" cy="1022.9000000000001" rx="1.7" ry="3.6" fill="#fffaf0" opacity="0.85"/><circle cx="752.3000000000001" cy="1024.5" r="2.2" fill="#a68a50" opacity="0.5"/><circle cx="879.8" cy="1060.3" r="12.5" fill="#e6cc96" opacity="0.5" filter="url(#hlblur1)"/><path d="M877.8,1050.8 A9.7 9.7 0 0 0 877.8,1069.8" fill="none" stroke="#8e6a32" stroke-width="1.8" opacity="0.7"/><circle cx="880.5999999999999" cy="1060.3" r="8.3" fill="url(#rivG)"/><ellipse cx="877.1999999999999" cy="1061.1" rx="1.9" ry="3.6" fill="#fffaf0" opacity="0.9"/><ellipse cx="884.4" cy="1059.5" rx="1.7" ry="3.6" fill="#fffaf0" opacity="0.85"/><circle cx="881.4" cy="1061.1" r="2.2" fill="#a68a50" opacity="0.5"/><circle cx="1009.4" cy="1023.7" r="12.5" fill="#e6cc96" opacity="0.5" filter="url(#hlblur1)"/><path d="M1007.4,1014.2 A9.7 9.7 0 0 0 1007.4,1033.2" fill="none" stroke="#8e6a32" stroke-width="1.8" opacity="0.7"/><circle cx="1010.1999999999999" cy="1023.7" r="8.3" fill="url(#rivG)"/><ellipse cx="1006.8" cy="1024.5" rx="1.9" ry="3.6" fill="#fffaf0" opacity="0.9"/><ellipse cx="1014.0" cy="1022.9000000000001" rx="1.7" ry="3.6" fill="#fffaf0" opacity="0.85"/><circle cx="1011.0" cy="1024.5" r="2.2" fill="#a68a50" opacity="0.5"/><circle cx="1101.2" cy="930.7" r="12.5" fill="#e6cc96" opacity="0.5" filter="url(#hlblur1)"/><path d="M1099.2,921.2 A9.7 9.7 0 0 0 1099.2,940.2" fill="none" stroke="#8e6a32" stroke-width="1.8" opacity="0.7"/><circle cx="1102.0" cy="930.7" r="8.3" fill="url(#rivG)"/><ellipse cx="1098.6000000000001" cy="931.5" rx="1.9" ry="3.6" fill="#fffaf0" opacity="0.9"/><ellipse cx="1105.8" cy="929.9000000000001" rx="1.7" ry="3.6" fill="#fffaf0" opacity="0.85"/><circle cx="1102.8" cy="931.5" r="2.2" fill="#a68a50" opacity="0.5"/><circle cx="1140.2" cy="801.1" r="12.5" fill="#e6cc96" opacity="0.5" filter="url(#hlblur1)"/><path d="M1138.2,791.6 A9.7 9.7 0 0 0 1138.2,810.6" fill="none" stroke="#8e6a32" stroke-width="1.8" opacity="0.7"/><circle cx="1141.0" cy="801.1" r="8.3" fill="url(#rivG)"/><ellipse cx="1137.6000000000001" cy="801.9" rx="1.9" ry="3.6" fill="#fffaf0" opacity="0.9"/><ellipse cx="1144.8" cy="800.3000000000001" rx="1.7" ry="3.6" fill="#fffaf0" opacity="0.85"/><circle cx="1141.8" cy="801.9" r="2.2" fill="#a68a50" opacity="0.5"/><circle cx="1140.2" cy="702.3" r="12.5" fill="#e6cc96" opacity="0.5" filter="url(#hlblur1)"/><path d="M1138.2,692.8 A9.7 9.7 0 0 0 1138.2,711.8" fill="none" stroke="#8e6a32" stroke-width="1.8" opacity="0.7"/><circle cx="1141.0" cy="702.3" r="8.3" fill="url(#rivG)"/><ellipse cx="1137.6000000000001" cy="703.0999999999999" rx="1.9" ry="3.6" fill="#fffaf0" opacity="0.9"/><ellipse cx="1144.8" cy="701.5" rx="1.7" ry="3.6" fill="#fffaf0" opacity="0.85"/><circle cx="1141.8" cy="703.0999999999999" r="2.2" fill="#a68a50" opacity="0.5"/><circle cx="1140.2" cy="606.4" r="12.5" fill="#e6cc96" opacity="0.5" filter="url(#hlblur1)"/><path d="M1138.2,596.9 A9.7 9.7 0 0 0 1138.2,615.9" fill="none" stroke="#8e6a32" stroke-width="1.8" opacity="0.7"/><circle cx="1141.0" cy="606.4" r="8.3" fill="url(#rivG)"/><ellipse cx="1137.6000000000001" cy="607.1999999999999" rx="1.9" ry="3.6" fill="#fffaf0" opacity="0.9"/><ellipse cx="1144.8" cy="605.6" rx="1.7" ry="3.6" fill="#fffaf0" opacity="0.85"/><circle cx="1141.8" cy="607.1999999999999" r="2.2" fill="#a68a50" opacity="0.5"/>
  
<rect x="531" y="772" width="36" height="56" fill="#b8a47c" opacity="0.6"/>
<g fill="none" stroke="#a8957a" stroke-width="0.9" opacity="0.7"><path d="M536,774 V827 M541,774 V827 M546,774 V827 M551,774 V827 M556,774 V827 M561,774 V827"/></g>
<g fill="none" stroke="#7b6a62" stroke-width="1.8" opacity="0.85">
  <rect x="491.5" y="750.5" width="77" height="79.5" rx="8"/>
  <path d="M502,752 V829 M529.8,752 V829"/>
  <path d="M492,766.3 L529.8,754 M492,778.6 L529.8,766.3 M492,791.4 L529.8,779 M492,804.3 L529.8,792 M492,817.2 L529.8,805 M494,829 L529.8,817.5 M529.8,766.3 L566,753 M529.8,779 L545,773.5"/>
  <rect x="493" y="846.6" width="74.5" height="74.5"/>
  <path d="M495,883 L556,911 M566,883 L507,911 M507,911 L531,920 L556,911" stroke-width="1.1"/>
</g>
<path d="M493,847.5 H567.5 V882.5 L528.8,860.5 L493,879 Z" fill="#8e8388" opacity="0.9"/>
<path d="M493,879 L528.8,859 L567.5,881" fill="none" stroke="#6f5f55" stroke-width="2"/>
<path d="M496,873 L527.5,852 L565,875" fill="none" stroke="#c8a070" stroke-width="1.2" opacity="0.8"/>
<g fill="none" stroke="#7b6a62" stroke-width="2" opacity="0.85"><rect x="1201.5" y="846.5" width="78" height="78.5"/></g>
<g transform="rotate(180 1240.5 885.5)" fill="#7a6e6e" opacity="0.9" style="font-family:'Liberation Sans',sans-serif;font-weight:bold">
  <text x="1240.5" y="883" font-size="27" text-anchor="middle" textLength="42" lengthAdjust="spacingAndGlyphs">HM</text>
  <text x="1240.5" y="913" font-size="27" text-anchor="middle" textLength="38" lengthAdjust="spacingAndGlyphs">TC</text>
</g>
<g transform="rotate(180 1244 640)" fill="#9a8a8c" opacity="0.9" style="font-family:'Liberation Sans',sans-serif">
  <text x="1192.5" y="651.5" font-size="30" textLength="103" lengthAdjust="spacingAndGlyphs">706078</text>
</g>
<g fill="#7a6650" opacity="0.92">
  <path d="M769.5,1148 H817 V1189.2 H769.5 Z M780.3,1158.7 V1177.7 H805.4 V1158.7 Z" fill-rule="evenodd"/>
  <rect x="790" y="1166" width="15.4" height="5"/>
  <text x="829.5" y="1179" font-size="30" font-weight="bold" textLength="155" lengthAdjust="spacingAndGlyphs" stroke="#7a6650" stroke-width="2.2" style="font-family:'Liberation Sans',sans-serif">Einhell</text>
</g>

  <g clip-path="url(#bladeClip)">
  <path d="M748.5,566.0 751.5,575.0 753.5,590.0 755.3,616.0 753.5,626.0 754.0,634.0 758.7,645.8 789.2,695.4 801.6,727.0 803.8,740.0 803.0,785.7 727.0,787.0 722.5,792.0 721.5,801.5 722.5,811.0 727.0,816.0 806.0,815.5 812.9,830.8 802.7,858.0 806.0,866.0 812.0,871.5 820.0,872.5 828.0,867.0 837.7,858.0 855.7,867.0 857.5,900.0 858.5,944.8 884.5,944.8 884.5,900.0 886.0,867.0 906.5,858.0 914.0,866.0 921.0,871.5 929.0,871.0 935.0,866.0 939.0,858.0 928.5,830.8 935.0,815.5 1014.0,815.5 1018.5,811.0 1019.5,801.5 1018.5,792.0 1014.0,787.0 937.5,786.8 937.8,740.0 938.5,722.5 979.9,643.5 986.6,625.5 986.6,575.8 987.0,566.0Z" fill="none" stroke="#efdcb2" stroke-width="4" stroke-linejoin="round" opacity="0.75"/>
  <g fill="none" stroke="#efdcb2" stroke-width="4" opacity="0.75"><rect x="-27.0" y="-13.5" width="54" height="27" rx="13.5" transform="translate(766.6,741.0) rotate(210)"/><rect x="-27.0" y="-13.5" width="54" height="27" rx="13.5" transform="translate(766.6,861.0) rotate(150)"/><rect x="-27.0" y="-13.5" width="54" height="27" rx="13.5" transform="translate(810.5,904.9) rotate(120)"/><rect x="-27.0" y="-13.5" width="54" height="27" rx="13.5" transform="translate(930.5,904.9) rotate(60)"/><rect x="-27.0" y="-13.5" width="54" height="27" rx="13.5" transform="translate(974.4,861.0) rotate(30)"/><rect x="-27.0" y="-13.5" width="54" height="27" rx="13.5" transform="translate(974.4,741.0) rotate(330)"/></g>
  </g>
  <path d="M748.5,566.0 751.5,575.0 753.5,590.0 755.3,616.0 753.5,626.0 754.0,634.0 758.7,645.8 789.2,695.4 801.6,727.0 803.8,740.0 803.0,785.7 727.0,787.0 722.5,792.0 721.5,801.5 722.5,811.0 727.0,816.0 806.0,815.5 812.9,830.8 802.7,858.0 806.0,866.0 812.0,871.5 820.0,872.5 828.0,867.0 837.7,858.0 855.7,867.0 857.5,900.0 858.5,944.8 884.5,944.8 884.5,900.0 886.0,867.0 906.5,858.0 914.0,866.0 921.0,871.5 929.0,871.0 935.0,866.0 939.0,858.0 928.5,830.8 935.0,815.5 1014.0,815.5 1018.5,811.0 1019.5,801.5 1018.5,792.0 1014.0,787.0 937.5,786.8 937.8,740.0 938.5,722.5 979.9,643.5 986.6,625.5 986.6,575.8 987.0,566.0Z" fill="#fff"/>
  <g fill="#fff"><rect x="-27.0" y="-13.5" width="54" height="27" rx="13.5" transform="translate(766.6,741.0) rotate(210)"/><rect x="-27.0" y="-13.5" width="54" height="27" rx="13.5" transform="translate(766.6,861.0) rotate(150)"/><rect x="-27.0" y="-13.5" width="54" height="27" rx="13.5" transform="translate(810.5,904.9) rotate(120)"/><rect x="-27.0" y="-13.5" width="54" height="27" rx="13.5" transform="translate(930.5,904.9) rotate(60)"/><rect x="-27.0" y="-13.5" width="54" height="27" rx="13.5" transform="translate(974.4,861.0) rotate(30)"/><rect x="-27.0" y="-13.5" width="54" height="27" rx="13.5" transform="translate(974.4,741.0) rotate(330)"/></g>
</g>

<!-- LINES -->
<g fill="none" stroke="#d40a1e" stroke-width="4.8">
<path d="M1642 304.5 H887.2 L886.4 872"/>
<path d="M131 501.7 L791.1 500.3 V717"/>
<path d="M130 1486 H815 V1240"/>
<path d="M1641.5 1693 H895.4 V1303.6"/>
</g>
<g fill="#d40a1e">
<circle cx="886.5" cy="872" r="14"/>
<circle cx="791" cy="717" r="14"/>
<circle cx="815" cy="1239.6" r="14"/>
<circle cx="895.4" cy="1303.6" r="14"/>
</g>
<!-- ICONS -->
<path d="M25.61,501.60 A48.2 48.2 0 1 1 106.79,501.60" fill="none" stroke="#000" stroke-width="4.7"/>
<path d="M26,501.6 H40.5 M91.9,501.6 H106.7" stroke="#000" stroke-width="4.7"/>
<path d="M40.50,504.00 V475.80 A25.7 25.7 0 0 1 91.90,475.80 V504.00" fill="none" stroke="#d40a1e" stroke-width="4.7"/>
<path d="M52.80,504.00 V493.30 L58.60,484.30 V474.80 A7.6 7.6 0 0 1 73.80,474.80 V484.30 L79.60,493.30 V504.00" fill="none" stroke="#d40a1e" stroke-width="4.7" stroke-linejoin="miter"/>
<path d="M38.15,501.65 H55.15 M77.25,501.65 H94.25" stroke="#d40a1e" stroke-width="4.7"/>
<rect x="62.00" y="456.20" width="8.6" height="10" fill="#d40a1e"/>
<rect x="46.90" y="471.20" width="10.70" height="8.3" fill="#d40a1e"/>
<rect x="74.80" y="471.20" width="10.70" height="8.3" fill="#d40a1e"/>
<path d="M22.10,1480.50 A48.4 48.4 0 1 1 105.10,1480.50" fill="none" stroke="#d40a1e" stroke-width="9.9"/>
<path d="M22.9,1481.7 H38.3 M89.7,1481.7 H104.3" stroke="#000" stroke-width="4.7"/>
<path d="M38.30,1483.70 V1455.20 A25.7 25.7 0 0 1 89.70,1455.20 V1483.70" fill="none" stroke="#000" stroke-width="4.7"/>
<path d="M50.60,1483.70 V1472.70 L56.40,1463.70 V1454.20 A7.6 7.6 0 0 1 71.60,1454.20 V1463.70 L77.40,1472.70 V1483.70" fill="none" stroke="#000" stroke-width="4.7" stroke-linejoin="miter"/>
<path d="M35.95,1481.35 H52.95 M75.05,1481.35 H92.05" stroke="#000" stroke-width="4.7"/>
<rect x="59.80" y="1435.60" width="8.6" height="10" fill="#000"/>
<rect x="44.70" y="1450.60" width="10.70" height="8.3" fill="#000"/>
<rect x="72.60" y="1450.60" width="10.70" height="8.3" fill="#000"/>
<path d="M1672.95,1691.50 A44.0 44.0 0 1 1 1745.65,1691.50" fill="none" stroke="#d40a1e" stroke-width="13.4"/>
<rect x="1668.22" y="1683.81" width="2.7" height="3.6" fill="#fff" transform="rotate(244.5 1669.57 1685.61)"/>
<rect x="1665.78" y="1677.45" width="2.7" height="3.6" fill="#fff" transform="rotate(253.4 1667.13 1679.25)"/>
<rect x="1664.35" y="1670.79" width="2.7" height="3.6" fill="#fff" transform="rotate(262.3 1665.70 1672.59)"/>
<rect x="1663.96" y="1663.99" width="2.7" height="3.6" fill="#fff" transform="rotate(271.2 1665.31 1665.79)"/>
<rect x="1664.63" y="1657.21" width="2.7" height="3.6" fill="#fff" transform="rotate(280.1 1665.98 1659.01)"/>
<rect x="1666.34" y="1650.61" width="2.7" height="3.6" fill="#fff" transform="rotate(289.0 1667.69 1652.41)"/>
<rect x="1669.04" y="1644.36" width="2.7" height="3.6" fill="#fff" transform="rotate(297.8 1670.39 1646.16)"/>
<rect x="1672.68" y="1638.60" width="2.7" height="3.6" fill="#fff" transform="rotate(306.7 1674.03 1640.40)"/>
<rect x="1677.16" y="1633.47" width="2.7" height="3.6" fill="#fff" transform="rotate(315.6 1678.51 1635.27)"/>
<rect x="1682.38" y="1629.09" width="2.7" height="3.6" fill="#fff" transform="rotate(324.5 1683.73 1630.89)"/>
<rect x="1688.22" y="1625.57" width="2.7" height="3.6" fill="#fff" transform="rotate(333.4 1689.57 1627.37)"/>
<rect x="1694.53" y="1623.00" width="2.7" height="3.6" fill="#fff" transform="rotate(342.2 1695.88 1624.80)"/>
<rect x="1701.16" y="1621.43" width="2.7" height="3.6" fill="#fff" transform="rotate(351.1 1702.51 1623.23)"/>
<rect x="1707.95" y="1620.90" width="2.7" height="3.6" fill="#fff" transform="rotate(360.0 1709.30 1622.70)"/>
<rect x="1714.74" y="1621.43" width="2.7" height="3.6" fill="#fff" transform="rotate(368.9 1716.09 1623.23)"/>
<rect x="1721.37" y="1623.00" width="2.7" height="3.6" fill="#fff" transform="rotate(377.8 1722.72 1624.80)"/>
<rect x="1727.68" y="1625.57" width="2.7" height="3.6" fill="#fff" transform="rotate(386.6 1729.03 1627.37)"/>
<rect x="1733.52" y="1629.09" width="2.7" height="3.6" fill="#fff" transform="rotate(395.5 1734.87 1630.89)"/>
<rect x="1738.74" y="1633.47" width="2.7" height="3.6" fill="#fff" transform="rotate(404.4 1740.09 1635.27)"/>
<rect x="1743.22" y="1638.60" width="2.7" height="3.6" fill="#fff" transform="rotate(413.3 1744.57 1640.40)"/>
<rect x="1746.86" y="1644.36" width="2.7" height="3.6" fill="#fff" transform="rotate(422.2 1748.21 1646.16)"/>
<rect x="1749.56" y="1650.61" width="2.7" height="3.6" fill="#fff" transform="rotate(431.0 1750.91 1652.41)"/>
<rect x="1751.27" y="1657.21" width="2.7" height="3.6" fill="#fff" transform="rotate(439.9 1752.62 1659.01)"/>
<rect x="1751.94" y="1663.99" width="2.7" height="3.6" fill="#fff" transform="rotate(448.8 1753.29 1665.79)"/>
<rect x="1751.55" y="1670.79" width="2.7" height="3.6" fill="#fff" transform="rotate(457.7 1752.90 1672.59)"/>
<rect x="1750.12" y="1677.45" width="2.7" height="3.6" fill="#fff" transform="rotate(466.6 1751.47 1679.25)"/>
<rect x="1747.68" y="1683.81" width="2.7" height="3.6" fill="#fff" transform="rotate(475.5 1749.03 1685.61)"/>
<path d="M1669,1692.6 H1683.6 M1735.0,1692.6 H1749.9" stroke="#000" stroke-width="4.2"/>
<path d="M1683.60,1695.40 V1666.70 A25.7 25.7 0 0 1 1735.00,1666.70 V1695.40" fill="none" stroke="#000" stroke-width="4.7"/>
<path d="M1695.90,1695.40 V1684.20 L1701.70,1675.20 V1665.70 A7.6 7.6 0 0 1 1716.90,1665.70 V1675.20 L1722.70,1684.20 V1695.40" fill="none" stroke="#000" stroke-width="4.7" stroke-linejoin="miter"/>
<path d="M1681.25,1693.05 H1698.25 M1720.35,1693.05 H1737.35" stroke="#000" stroke-width="4.7"/>
<rect x="1705.10" y="1647.10" width="8.6" height="10" fill="#000"/>
<rect x="1690.00" y="1662.10" width="10.70" height="8.3" fill="#000"/>
<rect x="1717.90" y="1662.10" width="10.70" height="8.3" fill="#000"/>
<g transform="translate(1640,230) scale(0.074494)"><ellipse cx="382" cy="960" rx="200" ry="44" transform="rotate(-8 382 962)" fill="none" stroke="#000" stroke-width="62"/><path d="M390,860 L380,700 L360,600 L400,520 L450,480 L600,410 L700,395 L760,430 L1110,365 L1200,290 L1220,220 L1300,165 L1560,245 L1595,320 L1470,700 L1420,745 L1170,665 L1150,655 L680,780 L640,820 L630,870 L560,905 L440,890Z" fill="none" stroke="#d40a1e" stroke-width="62" stroke-linejoin="round"/></g>
<!-- TEXT -->
<text class="h" x="944.4" y="185.4" textLength="697.4" lengthAdjust="spacingAndGlyphs">Universal compatibility</text>
<text class="s" x="1065.8" y="237.4" textLength="576.2" lengthAdjust="spacingAndGlyphs">suitable for almost all common</text>
<text class="s" x="1449.3" y="285.6" textLength="191.8" lengthAdjust="spacingAndGlyphs">multitools</text>
<text class="h" x="130.8" y="434" textLength="530.1" lengthAdjust="spacingAndGlyphs">Open back holder</text>
<text class="s" x="131.5" y="484.8" textLength="639.8" lengthAdjust="spacingAndGlyphs">for quick change of attachments</text>
<text class="h" x="130.6" y="1365.4" textLength="567.6" lengthAdjust="spacingAndGlyphs">Semicircular shape</text>
<text class="s" x="129.4" y="1417.8" textLength="643.5" lengthAdjust="spacingAndGlyphs">ideal for precise work in corners</text>
<text class="s" x="130.8" y="1466.2" textLength="200.5" lengthAdjust="spacingAndGlyphs">and edges</text>
<text class="h" x="985.9" y="1569" textLength="659.4" lengthAdjust="spacingAndGlyphs">Hard metal scattering</text>
<text class="s" x="1067.1" y="1621.2" textLength="573.3" lengthAdjust="spacingAndGlyphs">perfect for tile joints, plaster</text>
<text class="s" x="1215.2" y="1669.4" textLength="426.1" lengthAdjust="spacingAndGlyphs">and aerated concrete</text>
</svg>
</body></html>
